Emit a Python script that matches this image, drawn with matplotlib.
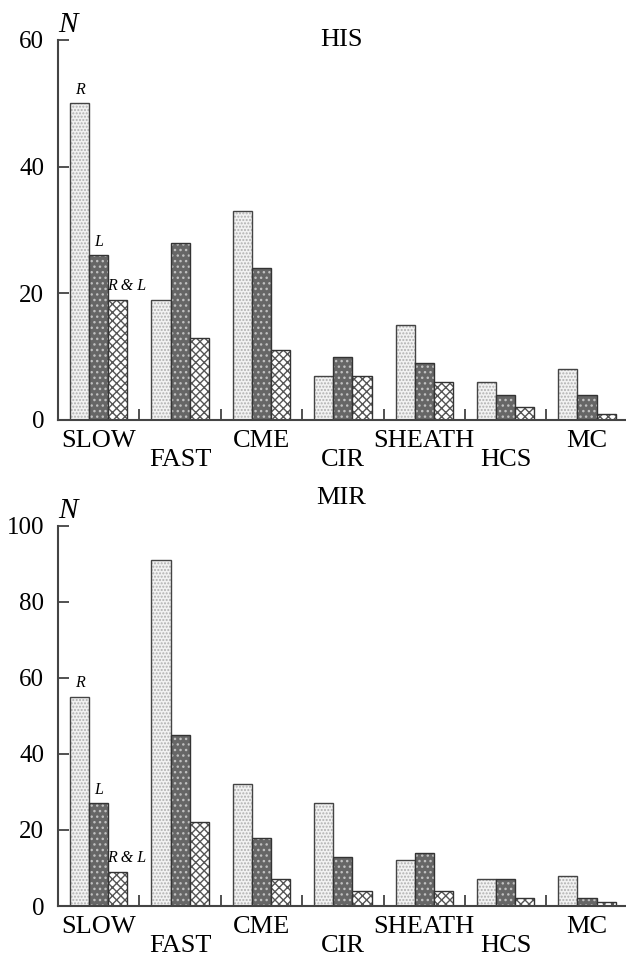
import numpy as np
import matplotlib.pyplot as plt

plt.rcParams['font.family'] = ['Liberation Serif', 'DejaVu Serif']
plt.rcParams['hatch.linewidth'] = 1.0

categories = ['SLOW', 'FAST', 'CME', 'CIR', 'SHEATH', 'HCS', 'MC']

# HIS counts
his_R = [50, 19, 33, 7, 15, 6, 8]
his_L = [26, 28, 24, 10, 9, 4, 4]
his_RL = [19, 13, 11, 7, 6, 2, 1]

# MIR counts
mir_R = [55, 91, 32, 27, 12, 7, 8]
mir_L = [27, 45, 18, 13, 14, 7, 2]
mir_RL = [9, 22, 7, 4, 4, 2, 1]

fig = plt.figure(figsize=(6.26, 9.56), dpi=100)
ax1 = fig.add_axes([0.0927, 0.5607, 0.91, 0.3975])
ax2 = fig.add_axes([0.0927, 0.0523, 0.91, 0.3975])

x = np.arange(len(categories))
w = 0.235


def draw_panel(ax, R, L, RL, ymax, title, title_y):
    # R: light dotted
    ax.bar(x - w, R, w, color='#f2f2f2', edgecolor='#b0b0b0', hatch='.....', lw=0)
    ax.bar(x - w, R, w, fill=False, edgecolor='#444444', lw=1.0)
    # L: dark with light dots
    ax.bar(x, L, w, color='#666666', edgecolor='#c0c0c0', hatch='...', lw=0)
    ax.bar(x, L, w, fill=False, edgecolor='#333333', lw=1.0)
    # R & L: cross-hatched
    ax.bar(x + w, RL, w, color='white', edgecolor='#555555', hatch='xxxx', lw=0)
    ax.bar(x + w, RL, w, fill=False, edgecolor='#333333', lw=1.0)

    ax.set_xlim(-0.5, 6.5)
    ax.set_ylim(0, ymax)
    ax.set_yticks(np.arange(0, ymax + 1, 20))
    ax.set_xticks(np.arange(0.5, 6.5, 1.0))
    ax.set_xticklabels([])
    ax.set_xticks(x, minor=True)
    labels = [c if i % 2 == 0 else '\n' + c for i, c in enumerate(categories)]
    ax.set_xticklabels(labels, minor=True, fontsize=19)
    for lab in ax.get_xticklabels(minor=True):
        lab.set_linespacing(0.85)
    ax.tick_params(axis='x', which='minor', length=0, pad=7)
    ax.tick_params(axis='x', which='major', direction='in', length=8, width=1.2, color='#333333')
    ax.tick_params(axis='y', direction='in', length=8, width=1.2, labelsize=18, pad=10, color='#333333')
    for s in ['top', 'right']:
        ax.spines[s].set_visible(False)
    for s in ['left', 'bottom']:
        ax.spines[s].set_linewidth(1.5)
        ax.spines[s].set_color('#444444')

    ax.text(0.0, 1.005, 'N', transform=ax.transAxes, style='italic', fontsize=21,
            ha='left', va='bottom')
    ax.text(0.497, title_y, title, transform=ax.transAxes, fontsize=19,
            ha='center', va='center')

    # bar annotations in the first group
    ax.annotate('R', (x[0] - w, R[0]), xytext=(0, 4), textcoords='offset points',
                ha='center', va='bottom', style='italic', fontsize=11.5)
    ax.annotate('L', (x[0], L[0]), xytext=(0, 4), textcoords='offset points',
                ha='center', va='bottom', style='italic', fontsize=11.5)
    ax.annotate('R & L', (x[0] + w, RL[0]), xytext=(6, 4), textcoords='offset points',
                ha='center', va='bottom', style='italic', fontsize=11.5)


draw_panel(ax1, his_R, his_L, his_RL, 60, 'HIS', 1.0)
draw_panel(ax2, mir_R, mir_L, mir_RL, 100, 'MIR', 1.074)

fig.savefig('out.png', dpi=100)
